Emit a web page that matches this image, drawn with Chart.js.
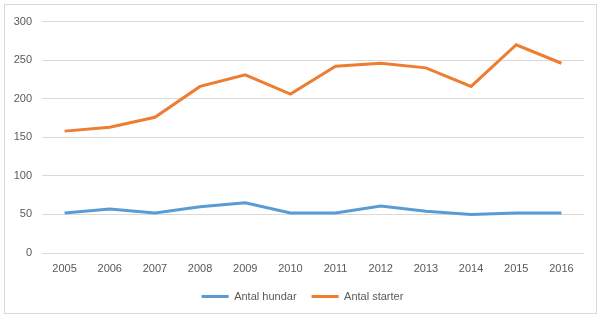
<!DOCTYPE html>
<html>
<head>
<meta charset="utf-8">
<script src="https://cdn.jsdelivr.net/npm/chart.js@4.4.1/dist/chart.umd.min.js"></script>
<style>
	body { margin: 0; background: #fff; }
	#wrap { position: absolute; left: 4px; top: 4px; width: 591px; height: 308px; border: 1px solid #d9d9d9; }
</style>
</head>
<body>
<div id="wrap"><canvas id="mycanvas" width="591" height="308"></canvas></div>
<script>
var years = ['2005', '2006', '2007', '2008', '2009', '2010', '2011', '2012', '2013', '2014', '2015', '2016'];
var antalHundar = [52, 57, 52, 60, 65, 52, 52, 61, 54, 50, 52, 52];
var antalStarter = [158, 163, 176, 216, 231, 206, 242, 246, 240, 216, 270, 246];
var yTicks = [0, 50, 100, 150, 200, 250, 300];

Chart.defaults.font.family = "'Liberation Sans', Arial, sans-serif";
Chart.defaults.font.size = 11;
Chart.defaults.color = '#595959';

var chartdata = {
	labels: years,
	datasets: [
		{
			label: 'Antal hundar',
			data: antalHundar,
			borderColor: '#5b9bd5',
			backgroundColor: '#5b9bd5',
			borderWidth: 3,
			pointRadius: 0,
			tension: 0
		},
		{
			label: 'Antal starter',
			data: antalStarter,
			borderColor: '#ed7d31',
			backgroundColor: '#ed7d31',
			borderWidth: 3,
			pointRadius: 0,
			tension: 0
		}
	]
};

// legend is centred on the whole box in the original, not on the padded area
var shiftLegend = {
	id: 'shiftLegend',
	afterLayout: function(chart) {
		chart.legend.left += 8;
		chart.legend.right += 8;
	}
};

var ctx = document.getElementById('mycanvas');

var lineGraph = new Chart(ctx, {
	type: 'line',
	data: chartdata,
	plugins: [shiftLegend],
	options: {
		responsive: false,
		animation: false,
		layout: { padding: { top: 11, right: 12, bottom: 1, left: 0 } },
		plugins: {
			tooltip: { enabled: false },
			legend: {
				position: 'bottom',
				labels: {
					usePointStyle: true,
					pointStyle: 'line',
					pointStyleWidth: 27,
					padding: 15,
					color: '#595959'
				}
			}
		},
		scales: {
			x: {
				offset: true,
				grid: { display: false, drawTicks: false },
				border: { display: false },
				ticks: { padding: 9, maxRotation: 0 },
				afterFit: function(scale) { scale.height = 23; }
			},
			y: {
				min: 0,
				max: 300,
				afterBuildTicks: function(scale) {
					scale.ticks = yTicks.map(function(v) { return { value: v }; });
				},
				grid: { color: '#d9d9d9', drawTicks: false },
				border: { display: false },
				ticks: { padding: 10 },
				afterFit: function(scale) { scale.width = 37; }
			}
		}
	}
});
</script>
</body>
</html>
